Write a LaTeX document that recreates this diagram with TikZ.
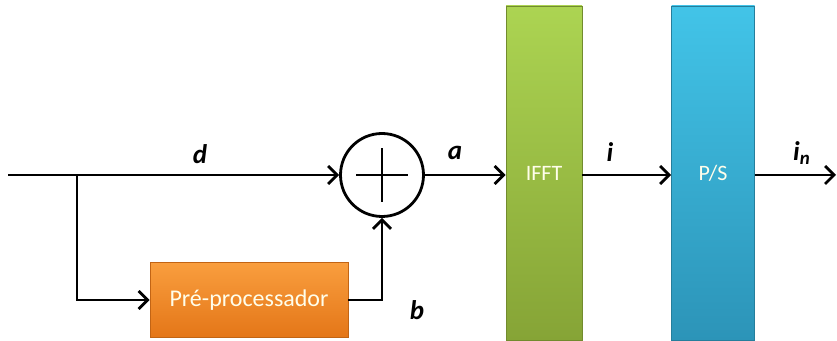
\documentclass[tikz,border=0pt]{standalone}
\usepackage{fontspec}
\setmainfont{Carlito}
\usetikzlibrary{shapes,arrows.meta,positioning}

\definecolor{orangetop}{RGB}{249,158,62}
\definecolor{orangebot}{RGB}{228,118,24}
\definecolor{greentop}{RGB}{172,212,82}
\definecolor{greenbot}{RGB}{134,164,54}
\definecolor{bluetop}{RGB}{66,196,232}
\definecolor{bluebot}{RGB}{44,148,184}

\begin{document}
\begin{tikzpicture}[
    x=0.5pt, y=-0.5pt,
    block/.style={rectangle, draw=#1bot!85!black, line width=0.4pt, top color=#1top, bottom color=#1bot, text=white!92!yellow, inner sep=0pt},
    arrow/.style={line width=1.4pt, -{Straight Barb[length=4.5pt,width=9pt]}},
    signal/.style={font=\fontsize{13.5}{15}\selectfont\bfseries\itshape}
]
\useasboundingbox (0,0) rectangle (837,341);

% Define nodes from left to right
\coordinate (in) at (8,175);
\coordinate (split) at (77,175);
\node [circle, draw, line width=1.4pt, minimum size=41.5pt, inner sep=0pt] (sum) at (382,175) {};
\node [block=orange, minimum width=99pt, minimum height=37.5pt, font=\fontsize{12}{14}\selectfont] (pre) at (249,300) {Pré-processador};
\node [block=green, minimum width=38pt, minimum height=167pt, font=\fontsize{11}{13}\selectfont] (ifft) at (544,173) {IFFT};
\node [block=blue, minimum width=41.5pt, minimum height=167pt, font=\fontsize{11}{13}\selectfont] (ps) at (713,173) {P/S};
\coordinate (out) at (836,175);

% Plus sign
\draw [line width=1.4pt] ([xshift=-13pt]sum.center) -- ([xshift=13pt]sum.center);
\draw [line width=1.4pt] ([yshift=-13.5pt]sum.center) -- ([yshift=13.5pt]sum.center);

% Draw arrows
\draw [line width=1.4pt] (in) -- (split);
\draw [arrow] (split) -- (sum.west);
\draw [arrow] (split) |- (pre.west);
\draw [arrow] (pre.east) -| (sum.south);
\draw [arrow] (sum.east) -- (ifft.west |- sum.east);
\draw [arrow] (ifft.east |- sum.east) -- (ps.west |- sum.east);
\draw [arrow] (ps.east |- sum.east) -- (out);

% Add labels
\node [signal] (dlabel) at (200,154) {d};
\node [signal] (alabel) at (455,153) {a};
\node [signal] (ilabel) at (610,152) {i};
\node [signal] (inlabel) at (802,153) {i\textsubscript{n}};
\node [signal] (blabel) at (417,310) {b};

\end{tikzpicture}
\end{document}
